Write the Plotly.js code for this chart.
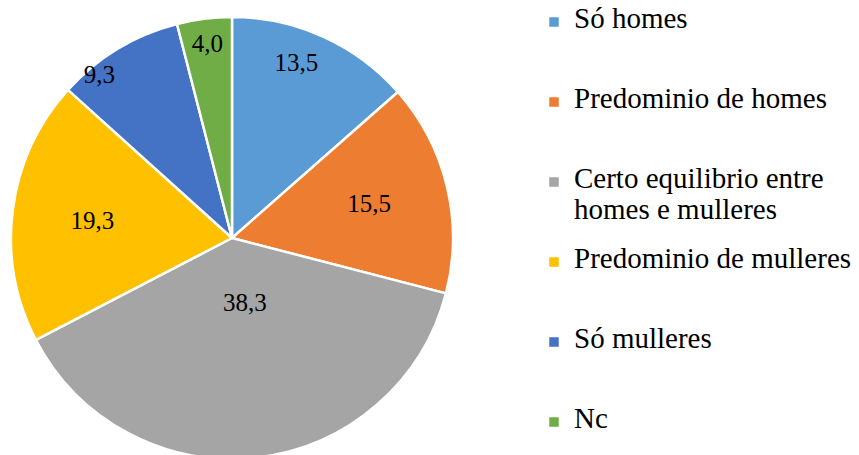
<!DOCTYPE html>
<html>
<head>
<meta charset="utf-8">
<script src="https://cdn.plot.ly/plotly-3.0.1.min.js"></script>
<style>
  html, body { margin: 0; padding: 0; overflow: hidden; background: #fff; }
  #chart { width: 859px; height: 459px; }
</style>
</head>
<body>
<div id="chart"></div>
<script>
// ---- data ----
var categories = [
  "Só homes",
  "Predominio de homes",
  "Certo equilibrio entre homes e mulleres",
  "Predominio de mulleres",
  "Só mulleres",
  "Nc"
];
var legendLines = [
  ["Só homes"],
  ["Predominio de homes"],
  ["Certo equilibrio entre", "homes e mulleres"],
  ["Predominio de mulleres"],
  ["Só mulleres"],
  ["Nc"]
];
var values = [13.5, 15.5, 38.3, 19.3, 9.3, 4.0];
var colors = ["#5B9BD5", "#ED7D31", "#A5A5A5", "#FFC000", "#4472C4", "#70AD47"];

// label nudges (style only): blank lines added below, non-breaking spaces added right
var padLinesBelow = [2, 0, 3, 0, 1, 0];
var padSpacesRight = [0, 3, 0, 0, 14, 0];

var FONT = "'Liberation Serif', 'Times New Roman', Times, serif";

// ---- legend label layout (spacing via small base font + padded lines) ----
var LEG_SIZE = 29;
var SLOTS = 10;
function buildLegendLabel(lines) {
  var out = [];
  for (var i = 0; i < SLOTS; i++) out.push("&nbsp;");
  out[5] = '<span style="font-size:' + LEG_SIZE + 'px">' + lines[0] + '</span>';
  if (lines.length > 1) out[9] = '<span style="font-size:' + LEG_SIZE + 'px">' + lines[1] + '</span>';
  return out.join("<br>");
}
var labels = legendLines.map(buildLegendLabel);

var templates = values.map(function (v, i) {
  var s = "%{value:.1f}";
  for (var k = 0; k < padSpacesRight[i]; k++) s += "&nbsp;";
  for (var j = 0; j < padLinesBelow[i]; j++) s += "<br>&nbsp;";
  return s;
});

var W = 859, H = 459, T = 17;
var trace = {
  type: "pie",
  labels: labels,
  values: values,
  sort: false,
  direction: "clockwise",
  rotation: 0,
  marker: { colors: colors, line: { color: "#ffffff", width: 2.5 } },
  texttemplate: templates,
  textposition: "inside",
  insidetextorientation: "horizontal",
  textfont: { family: FONT, size: 25, color: "#000000" },
  hoverinfo: "none",
  domain: { x: [11 / W, 453 / W], y: [0, 1] }
};

var layout = {
  width: W,
  height: H,
  margin: { l: 0, r: 0, t: T, b: 0, autoexpand: false },
  paper_bgcolor: "#ffffff",
  separators: ", ",
  showlegend: true,
  uniformtext: { minsize: 25, mode: "show" },
  legend: {
    x: 534 / W,
    xanchor: "left",
    y: 1 + (T + 23) / (H - T),
    yanchor: "top",
    valign: "middle",
    bgcolor: "rgba(0,0,0,0)",
    maxheight: 2000,
    font: { family: FONT, size: 77 / SLOTS / 1.3, color: "#000000" }
  },
  font: { family: FONT }
};

Plotly.newPlot("chart", [trace], layout, { displayModeBar: false, staticPlot: true });
</script>
</body>
</html>
